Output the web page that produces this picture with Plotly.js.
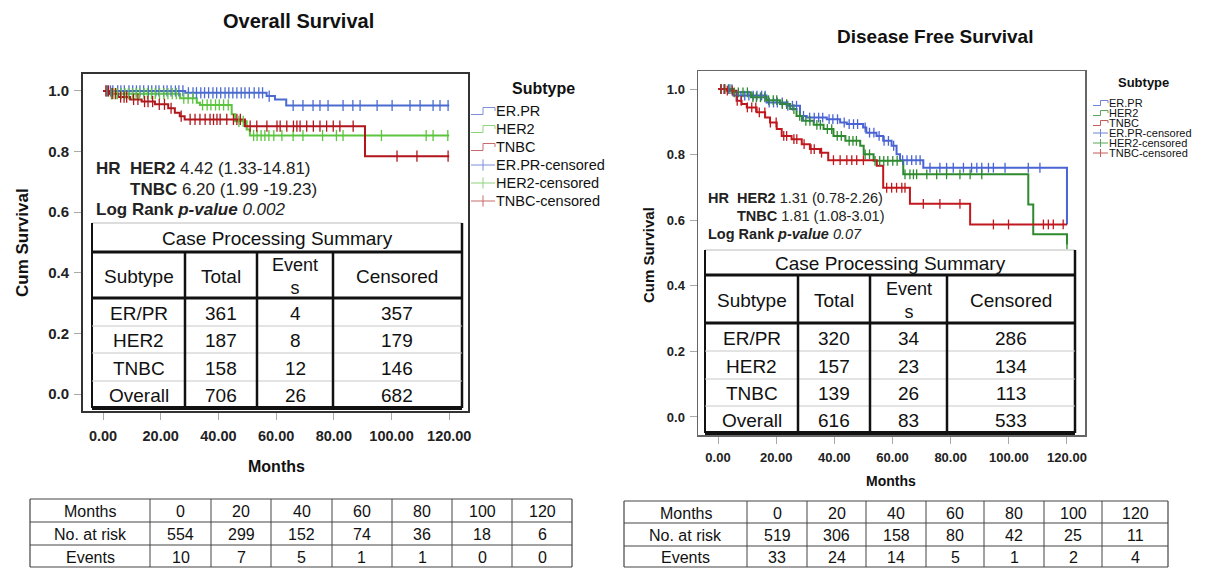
<!DOCTYPE html>
<html><head><meta charset="utf-8">
<script src="https://cdn.plot.ly/plotly-3.0.1.min.js"></script>
<style>html,body{margin:0;padding:0;background:#fff}#chart{width:1208px;height:568px}</style>
</head><body><div id="chart"></div>
<script>
// ---------------- DATA ----------------
const subtypes = ['ER.PR', 'HER2', 'TNBC'];
const legendLabels = ['ER.PR', 'HER2', 'TNBC', 'ER.PR-censored', 'HER2-censored', 'TNBC-censored'];
const xTickVals = [0, 20, 40, 60, 80, 100, 120];
const xTickText = ['0.00', '20.00', '40.00', '60.00', '80.00', '100.00', '120.00'];
const yTickVals = [0, 0.2, 0.4, 0.6, 0.8, 1.0];
const yTickText = ['0.0', '0.2', '0.4', '0.6', '0.8', '1.0'];

// Overall survival – step curves (months, cumulative survival)
const osErprT = [0, 28.5, 56.7, 59.6, 63.5, 120];
const osErprS = [1, 0.994, 0.983, 0.972, 0.952, 0.952];
const osHer2T = [0, 2.4, 26.7, 32.5, 33.6, 44.6, 45.8, 49.8, 50.9, 120];
const osHer2S = [1, 0.991, 0.976, 0.961, 0.954, 0.923, 0.9, 0.873, 0.853, 0.853];
const osTnbcT = [0, 2.4, 5.3, 9.4, 13.4, 18, 22.6, 24.9, 26.6, 28.3, 49.2, 90.8, 120];
const osTnbcS = [1, 0.991, 0.98, 0.972, 0.965, 0.956, 0.943, 0.928, 0.917, 0.906, 0.884, 0.785, 0.785];
// Overall survival – censoring times (months)
const osErprC = [1.5,2.6,3.4,5.1,6.2,7.4,9.0,10.3,11.6,12.8,14.1,15.7,16.9,18.3,19.4,21.0,22.2,23.6,25.1,26.3,27.7,29.6,31.2,32.4,33.9,35.2,36.6,38.1,39.4,40.8,42.3,43.6,45.0,46.4,47.9,49.2,50.7,52.4,54.0,55.3,57.6,65.9,69.3,72.8,75.2,78.0,83.2,86.6,89.1,95.0,100.2,106.4,109.9,114.4,116.8,119.6];
const osHer2C = [1.2,2.9,3.8,5.0,6.3,7.6,8.8,10.2,11.5,12.7,14.2,15.4,16.8,18.1,19.6,21.1,22.5,24.0,25.4,28.0,29.5,31.1,34.5,36.1,37.4,39.0,40.3,41.8,43.4,47.1,48.6,52.2,53.4,54.8,56.1,57.5,59.2,62.0,65.9,69.3,76.1,80.9,83.2,96.5,112.0,114.4,119.5];
const osTnbcC = [1.0,1.9,3.2,4.4,6.1,7.3,8.2,10.6,12.1,14.4,15.6,17.2,19.5,21.3,23.6,27.1,30.2,31.9,33.6,35.4,37.1,38.3,39.5,40.6,42.9,45.2,46.4,47.6,51.0,53.3,56.8,60.3,61.4,63.7,66.0,67.2,68.3,70.6,72.9,75.2,77.5,79.8,82.1,86.7,101.9,108.8,119.6];

// Disease free survival – step curves
const dfsErprT = [0, 5.3, 16.7, 23.6, 28.2, 30.5, 37.4, 42, 44.3, 49.9, 51, 54.5, 56.8, 59.7, 61.4, 62.6, 70.6, 120];
const dfsErprS = [1, 0.98, 0.959, 0.949, 0.918, 0.913, 0.908, 0.898, 0.893, 0.883, 0.867, 0.857, 0.842, 0.827, 0.801, 0.783, 0.76, 0.587];
const dfsHer2T = [0, 5.3, 11.3, 16.7, 21.3, 24.8, 27, 28.9, 32.9, 36.3, 39.7, 43.8, 48.9, 50.1, 53.5, 63.7, 106.7, 108.4, 120];
const dfsHer2S = [1, 0.99, 0.975, 0.966, 0.954, 0.939, 0.918, 0.903, 0.891, 0.878, 0.857, 0.842, 0.827, 0.801, 0.781, 0.74, 0.648, 0.557, 0.526];
const dfsTnbcT = [0, 3, 6.4, 8.1, 9.9, 13.3, 16.2, 17.9, 20.2, 21.9, 25.3, 28.8, 31.6, 35.1, 37.9, 54.6, 56.8, 66, 86.7, 120];
const dfsTnbcS = [1, 0.995, 0.964, 0.954, 0.944, 0.929, 0.913, 0.898, 0.878, 0.857, 0.847, 0.832, 0.817, 0.806, 0.783, 0.766, 0.699, 0.65, 0.587, 0.587];
// Disease free survival – censoring times
const dfsErprC = [1.1,2.2,3.6,4.8,6.6,7.9,9.2,10.6,12.1,13.4,15.0,16.2,17.6,19.1,20.4,22.1,24.0,25.6,27.0,29.4,31.5,33.1,34.6,36.0,38.2,39.5,41.1,43.4,45.1,46.6,48.0,50.6,52.1,53.6,55.4,57.1,58.6,60.4,63.5,65.0,66.6,68.1,69.5,72.9,76.3,78.6,80.9,84.4,87.2,89.0,90.7,93.0,94.7,98.7,106.7,110.7];
const dfsHer2C = [1.0,2.4,4.1,5.6,7.0,8.6,10.1,12.0,13.2,14.6,16.1,17.4,19.0,20.2,22.1,23.6,26.1,28.1,30.2,31.6,34.0,35.2,37.6,39.1,41.0,42.4,45.1,46.4,47.6,50.6,52.1,54.0,55.6,57.0,58.4,60.1,61.6,64.3,66.0,67.2,68.3,71.8,75.2,78.6,83.2,86.7,90.7,120];
const dfsTnbcC = [1.0,2.1,3.2,4.9,6.6,8.0,10.1,11.6,13.0,14.2,16.1,18.0,20.0,22.6,23.6,26.1,27.1,29.6,32.0,33.1,35.6,39.7,42.0,44.3,46.0,47.7,50.0,58.0,59.7,61.4,63.2,64.3,70.6,76.3,83.2,94.7,99.9,111.9,113.6,115.3,118.7];

// Case processing summaries
const caseHeader = ['Subtype', 'Total', 'Event<br>s', 'Censored'];
const caseSubtypes = ['ER/PR', 'HER2', 'TNBC', 'Overall'];
const osTotal = [361, 187, 158, 706];
const osEvents = [4, 8, 12, 26];
const osCensored = [357, 179, 146, 682];
const dfsTotal = [320, 157, 139, 616];
const dfsEvents = [34, 23, 26, 83];
const dfsCensored = [286, 134, 113, 533];

// Risk tables
const riskRowLabels = ['Months', 'No. at risk', 'Events'];
const riskMonths = [0, 20, 40, 60, 80, 100, 120];
const osAtRisk = [554, 299, 152, 74, 36, 18, 6];
const osRiskEvents = [10, 7, 5, 1, 1, 0, 0];
const dfsAtRisk = [519, 306, 158, 80, 42, 25, 11];
const dfsRiskEvents = [33, 24, 14, 5, 1, 2, 4];

// ---------------- HELPERS ----------------
const W = 1208, H = 568;
const FONT = 'Liberation Sans, Arial, Helvetica, sans-serif';
const X = px => px / W;
const Y = py => 1 - py / H;
function survAt(T, S, t) { let v = S[0]; for (let i = 0; i < T.length; i++) { if (T[i] <= t) v = S[i]; } return v; }

const traces = [];
function addCurves(Ts, Ss, Cs, colors, xa, ya, lw, msize) {
  for (let k = 0; k < 3; k++) {
    traces.push({x: Ts[k], y: Ss[k], type: 'scatter', mode: 'lines', line: {shape: 'hv', color: colors[k], width: lw},
      xaxis: xa, yaxis: ya, showlegend: false, name: subtypes[k], hoverinfo: 'skip'});
  }
  for (let k = 0; k < 3; k++) {
    traces.push({x: Cs[k], y: Cs[k].map(t => survAt(Ts[k], Ss[k], t)), type: 'scatter', mode: 'markers',
      marker: {symbol: 'line-ns', size: msize, line: {color: colors[k], width: 1.3}},
      xaxis: xa, yaxis: ya, showlegend: false, name: subtypes[k] + '-censored', hoverinfo: 'skip'});
  }
}
const osColors = ['#4b6bd0', '#5cc43e', '#b0161c'];
const dfsColors = ['#4a64d4', '#2e8a2e', '#c0181e'];
addCurves([osErprT, osHer2T, osTnbcT], [osErprS, osHer2S, osTnbcS], [osErprC, osHer2C, osTnbcC], osColors, 'x', 'y', 2, 8);
addCurves([dfsErprT, dfsHer2T, dfsTnbcT], [dfsErprS, dfsHer2S, dfsTnbcS], [dfsErprC, dfsHer2C, dfsTnbcC], dfsColors, 'x2', 'y2', 2, 7);

const shapes = [], annotations = [];
function line(x0, y0, x1, y1, color, w) {
  shapes.push({type: 'line', xref: 'paper', yref: 'paper', x0: X(x0), y0: Y(y0), x1: X(x1), y1: Y(y1), line: {color: color, width: w}});
}
function rect(x0, y0, x1, y1, fill) {
  shapes.push({type: 'rect', xref: 'paper', yref: 'paper', x0: X(x0), y0: Y(y0), x1: X(x1), y1: Y(y1), fillcolor: fill, line: {width: 0}});
}
function text(t, x, y, size, opts) {
  opts = opts || {};
  annotations.push(Object.assign({text: t, xref: 'paper', yref: 'paper', x: X(x), y: Y(y), showarrow: false,
    xanchor: 'center', yanchor: 'middle', font: {family: FONT, size: size, color: opts.color || '#111', weight: opts.weight || 'normal'}}, opts.extra || {}));
}

function caseTable(g, totals, events, censored, fs) {
  rect(g.x0, g.yTop, g.x1, g.yBot, '#ffffff');
  line(g.x0, g.yTop, g.x1, g.yTop, '#bbbbbb', 1);
  line(g.x0, g.yTop, g.x0, g.yBot, '#111', 2);
  line(g.x1, g.yTop, g.x1, g.yBot, '#111', 2.5);
  line(g.x0, g.yTitle, g.x1, g.yTitle, '#111', 3);
  line(g.x0, g.yHead, g.x1, g.yHead, '#111', 3);
  g.rows.forEach(r => line(g.x0, r, g.x1, r, '#c8c8c8', 1));
  line(g.x0, g.yBot, g.x1, g.yBot, '#111', 4);
  g.cols.forEach(c => line(c, g.yTitle, c, g.yBot, '#111', 2.5));
  text('Case Processing Summary', (g.x0 + g.x1) / 2, (g.yTop + g.yTitle) / 2 + 1, fs);
  const cb = [g.x0].concat(g.cols).concat([g.x1]);
  const rb = [g.yHead].concat(g.rows).concat([g.yBot]);
  caseHeader.forEach((h, i) => text(h, (cb[i] + cb[i + 1]) / 2, (g.yTitle + g.yHead) / 2 + 1, fs,
    {extra: i === 2 ? {font: {family: FONT, size: fs - 1, color: '#111'}} : {}}));
  for (let r = 0; r < 4; r++) {
    const yc = (rb[r] + rb[r + 1]) / 2 + 1;
    const vals = [caseSubtypes[r], totals[r], events[r], censored[r]];
    vals.forEach((v, i) => text(String(v), (cb[i] + cb[i + 1]) / 2, yc, fs));
  }
}
caseTable({x0: 92, x1: 462, yTop: 223, yTitle: 252, yHead: 298, rows: [326, 353, 381], yBot: 408, cols: [185, 257, 333]},
  osTotal, osEvents, osCensored, 19);
caseTable({x0: 705, x1: 1075, yTop: 250, yTitle: 275, yHead: 323, rows: [351, 379, 406], yBot: 433, cols: [798, 870, 947]},
  dfsTotal, dfsEvents, dfsCensored, 19);

function riskTable(g, atRisk, ev, fs) {
  const rows = [riskMonths, atRisk, ev];
  line(g.x0, g.yTop, g.x1, g.yTop, '#444', 1.2);
  g.rows.forEach(r => line(g.x0, r, g.x1, r, '#444', 1));
  line(g.x0, g.yBot, g.x1, g.yBot, '#444', 1.2);
  line(g.x0, g.yTop, g.x0, g.yBot, '#444', 1.2);
  line(g.x1, g.yTop, g.x1, g.yBot, '#444', 1.2);
  g.cols.forEach(c => line(c, g.yTop, c, g.yBot, '#444', 1));
  const cb = [g.x0].concat(g.cols).concat([g.x1]);
  const rb = [g.yTop].concat(g.rows).concat([g.yBot]);
  for (let r = 0; r < 3; r++) {
    const yc = (rb[r] + rb[r + 1]) / 2 + 1;
    text(riskRowLabels[r], (cb[0] + cb[1]) / 2, yc, fs);
    rows[r].forEach((v, i) => text(String(v), (cb[i + 1] + cb[i + 2]) / 2, yc, fs));
  }
}
riskTable({x0: 30, x1: 572, yTop: 499, rows: [522, 545], yBot: 567, cols: [150, 211, 271, 332, 392, 452, 512]}, osAtRisk, osRiskEvents, 16);
riskTable({x0: 624, x1: 1168, yTop: 501, rows: [523, 546], yBot: 567, cols: [747, 807, 866, 926, 984, 1044, 1102]}, dfsAtRisk, dfsRiskEvents, 16);

function legend(g, colors) {
  text('<b>Subtype</b>', g.titleX, g.titleY, g.titleSize);
  legendLabels.forEach((lab, i) => {
    const y = g.y0 + i * g.dy;
    const c = colors[i % 3];
    if (i < 3) {
      const a = g.ix0, b = g.ix1, m = (a + b) / 2, h = g.ih;
      shapes.push({type: 'path', xref: 'paper', yref: 'paper',
        path: 'M' + X(a) + ',' + Y(y + h) + ' L' + X(m) + ',' + Y(y + h) + ' L' + X(m) + ',' + Y(y - h) + ' L' + X(b) + ',' + Y(y - h) + ' L' + X(b) + ',' + Y(y),
        line: {color: c, width: 1}});
    } else {
      line(g.ix0, y, g.ix1, y, c, 1);
      line((g.ix0 + g.ix1) / 2, y - g.ih * 1.6, (g.ix0 + g.ix1) / 2, y + g.ih * 1.6, c, 1);
    }
    text(lab, g.tx, y, g.fs, {color: '#111', extra: {xanchor: 'left'}});
  });
}
legend({titleX: 543, titleY: 88, titleSize: 16, y0: 111, dy: 18, ix0: 471, ix1: 495, ih: 3.5, tx: 494, fs: 14.5},
  ['#7c8fd8', '#8fd27c', '#c96a6a']);
legend({titleX: 1143, titleY: 83, titleSize: 13, y0: 103, dy: 10, ix0: 1093, ix1: 1108, ih: 2.5, tx: 1107, fs: 11},
  ['#6f84d8', '#5aa65a', '#c85a5a']);

// titles & labels
text('<b>Overall Survival</b>', 298, 21, 20);
text('<b>Disease Free Survival</b>', 935, 37, 19);
text('<b>Cum Survival</b>', 22, 243, 17, {extra: {textangle: -90}});
text('<b>Cum Survival</b>', 648, 255, 15, {extra: {textangle: -90}});
text('<b>Months</b>', 276, 466, 16);
text('<b>Months</b>', 891, 481, 14);
// statistics
text('<b>HR  HER2</b> 4.42 (1.33-14.81)', 94, 168, 17, {color: '#222', extra: {xanchor: 'left'}});
text('<b>TNBC</b> 6.20 (1.99 -19.23)', 128, 189, 17, {color: '#222', extra: {xanchor: 'left'}});
text('<b>Log Rank <i>p-value</i></b> <i>0.002</i>', 94, 209, 17, {color: '#222', extra: {xanchor: 'left'}});
text('<b>HR  HER2</b> 1.31 (0.78-2.26)', 706, 198, 14.5, {color: '#222', extra: {xanchor: 'left'}});
text('<b>TNBC</b> 1.81 (1.08-3.01)', 735, 216, 14.5, {color: '#222', extra: {xanchor: 'left'}});
text('<b>Log Rank <i>p-value</i></b> <i>0.07</i>', 706, 234, 14.5, {color: '#222', extra: {xanchor: 'left'}});

function xAxis(dom, rng, anchor, fs, lc, lw, standoff) {
  return {domain: dom, range: rng, anchor: anchor, tickvals: xTickVals, ticktext: xTickText, ticks: 'outside', ticklen: 7,
    tickcolor: '#aaaaaa', tickwidth: 1, showline: true, mirror: true, linecolor: lc, linewidth: lw, showgrid: false,
    ticklabelstandoff: standoff, zeroline: false, tickfont: {family: FONT, size: fs, color: '#222', weight: 'bold'}, fixedrange: true};
}
function yAxis(dom, rng, anchor, fs, lc, lw, standoff) {
  return {domain: dom, range: rng, anchor: anchor, tickvals: yTickVals, ticktext: yTickText, ticks: 'outside', ticklen: 7,
    tickcolor: '#aaaaaa', tickwidth: 1, showline: true, mirror: true, linecolor: lc, linewidth: lw, showgrid: false,
    ticklabelstandoff: standoff, zeroline: false, tickfont: {family: FONT, size: fs, color: '#222', weight: 'bold'}, fixedrange: true};
}

const layout = {
  width: W, height: H, margin: {l: 0, r: 0, t: 0, b: 0}, paper_bgcolor: '#fff', plot_bgcolor: '#fff',
  font: {family: FONT}, showlegend: false,
  xaxis: xAxis([X(83), X(468)], [-6.93, 126.5], 'y', 14.5, '#333', 2, 4),
  yaxis: yAxis([Y(411), Y(74)], [-0.056, 1.056], 'x', 15, '#333', 2, 2),
  xaxis2: xAxis([X(698), X(1085)], [-6.88, 126.2], 'y2', 13, '#666', 1.5, 3),
  yaxis2: yAxis([Y(435), Y(71)], [-0.055, 1.055], 'x2', 13, '#666', 1.5, 2),
  shapes: shapes, annotations: annotations
};
Plotly.newPlot('chart', traces, layout, {staticPlot: true, displayModeBar: false});
</script></body></html>
